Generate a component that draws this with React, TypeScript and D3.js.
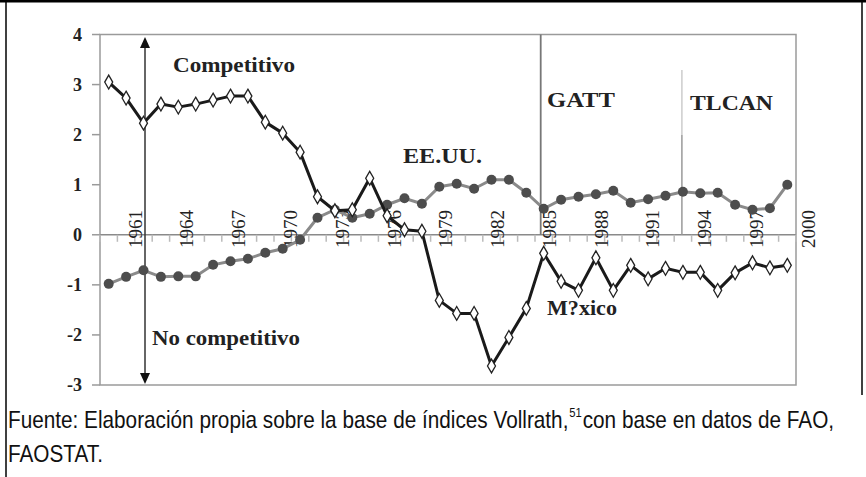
import React, { useLayoutEffect, useRef, useState } from "react";
import * as d3 from "d3";

const years: number[] = d3.range(1961, 2001);
const mexico: number[] = [3.05, 2.73, 2.23, 2.61, 2.55, 2.61, 2.69, 2.77, 2.77, 2.25, 2.03, 1.65, 0.76, 0.48, 0.5, 1.13, 0.38, 0.1, 0.07, -1.31, -1.57, -1.57, -2.62, -2.05, -1.47, -0.37, -0.93, -1.11, -0.46, -1.11, -0.61, -0.88, -0.67, -0.75, -0.75, -1.11, -0.76, -0.56, -0.66, -0.61];
const usa: number[] = [-0.98, -0.84, -0.71, -0.84, -0.83, -0.83, -0.6, -0.53, -0.48, -0.36, -0.28, -0.1, 0.34, 0.5, 0.34, 0.42, 0.6, 0.73, 0.62, 0.96, 1.02, 0.92, 1.1, 1.1, 0.84, 0.52, 0.7, 0.76, 0.81, 0.88, 0.64, 0.71, 0.78, 0.86, 0.83, 0.84, 0.6, 0.5, 0.53, 1.0];
const tickYears: number[] = [1961, 1964, 1967, 1970, 1973, 1976, 1979, 1982, 1985, 1988, 1991, 1994, 1997, 2000];
const yTicks: number[] = [4, 3, 2, 1, 0, -1, -2, -3];
const events = [
  { label: "GATT", year: 1986 },
  { label: "TLCAN", year: 1994 },
];
const noteParts: string[] = ["Fuente: Elaboración propia sobre la base de índices Vollrath,", "51", " con base en datos de FAO,"];
const noteLine2 = "FAOSTAT.";

const W = 866, H = 477;
const L = 100, R = 796, T = 34.5, B = 385;
const NOTE_W = 827;

export default function App() {
  const band = d3.scaleBand<number>().domain(years).range([L, R]);
  const x = (yr: number) => (band(yr) as number) + band.bandwidth() / 2;
  const y = d3.scaleLinear().domain([-3, 4]).range([B, T]);
  const labelX = d3.scaleLinear().domain([1961, 2000]).range([135, 808]);
  const y0 = y(0);

  const line = d3.line<number>().x((_, i) => x(years[i])).y((v) => y(v));
  const diamond = d3.symbol().type(d3.symbolDiamond).size(55)() as string;

  const serif = "'Liberation Serif', 'Times New Roman', serif";
  const sans = "'Liberation Sans Narrow', 'Liberation Sans', Arial, sans-serif";

  const r0 = useRef<SVGTextElement>(null);
  const r1 = useRef<SVGTextElement>(null);
  const r2 = useRef<SVGTextElement>(null);
  const [widths, setWidths] = useState<number[]>([600, 14, 220]);
  useLayoutEffect(() => {
    const w = [r0, r1, r2].map((r) => (r.current ? r.current.getComputedTextLength() : 0));
    if (w.every((v) => v > 0)) setWidths(w);
  }, []);
  const total = widths[0] + widths[1] + widths[2] + 3;
  const sx = NOTE_W / total;

  return (
    <svg width={W} height={H} style={{ position: "absolute", left: 0, top: 0, background: "#fff" }}>
      {/* outer frame */}
      <line x1={0} x2={W} y1={1.2} y2={1.2} stroke="#000" strokeWidth={2.6} />
      <line x1={6} x2={6} y1={0} y2={H} stroke="#000" strokeWidth={1.5} />
      <line x1={862} x2={862} y1={0} y2={395} stroke="#000" strokeWidth={1.5} />

      {/* plot frame */}
      <rect x={L} y={T} width={R - L} height={B - T} fill="none" stroke="#9a9a9a" strokeWidth={1.5} />
      {yTicks.map((t) => (
        <g key={t}>
          <line x1={L - 8} x2={L} y1={y(t)} y2={y(t)} stroke="#9a9a9a" strokeWidth={1.5} />
          <text x={82} y={y(t)} dy="0.35em" textAnchor="end" fontFamily={serif} fontWeight="bold" fontSize={18} fill="#222">
            {t < 0 ? "-" + Math.abs(t) : String(t)}
          </text>
        </g>
      ))}
      <line x1={L} x2={R} y1={y0} y2={y0} stroke="#8a8a8a" strokeWidth={1.5} />
      {d3.range(years.length + 1).map((k) => (
        <line key={k} x1={L + k * band.step()} x2={L + k * band.step()} y1={y0} y2={y0 + 7} stroke="#bbb" strokeWidth={1.5} />
      ))}
      {tickYears.map((yr) => (
        <text key={yr} transform={`translate(${labelX(yr)},${229}) rotate(-90)`} textAnchor="middle" dy="0.35em" fontFamily={serif} fontSize={19} fill="#222">
          {yr}
        </text>
      ))}

      {/* events */}
      <line x1={x(events[0].year) - 3} x2={x(events[0].year) - 3} y1={T} y2={y0} stroke="#777" strokeWidth={1.8} />
      <line x1={x(events[1].year) - 1} x2={x(events[1].year) - 1} y1={70} y2={135} stroke="#ccc" strokeWidth={1.5} />
      <line x1={x(events[1].year) - 1} x2={x(events[1].year) - 1} y1={135} y2={y0} stroke="#999" strokeWidth={1.5} />

      {/* arrow */}
      <line x1={145} x2={145} y1={44} y2={376} stroke="#333" strokeWidth={1.5} />
      <path d="M145,37 L140,48 L150,48 Z" fill="#111" />
      <path d="M145,384 L140,373 L150,373 Z" fill="#111" />

      {/* USA */}
      <path d={line(usa) as string} fill="none" stroke="#8a8a8a" strokeWidth={3} />
      {usa.map((v, i) => (
        <circle key={i} cx={x(years[i])} cy={y(v)} r={5} fill="#4d4d4d" />
      ))}
      {/* Mexico */}
      <path d={line(mexico) as string} fill="none" stroke="#1a1a1a" strokeWidth={3} strokeLinejoin="round" />
      {mexico.map((v, i) => (
        <path key={i} d={diamond} transform={`translate(${x(years[i])},${y(v)})`} fill="#fff" stroke="#222" strokeWidth={1.3} />
      ))}

      {/* annotations */}
      <text x={173} y={72} fontFamily={serif} fontWeight="bold" fontSize={21} fill="#222" textLength={122} lengthAdjust="spacingAndGlyphs">Competitivo</text>
      <text x={152} y={345} fontFamily={serif} fontWeight="bold" fontSize={21} fill="#222" textLength={148} lengthAdjust="spacingAndGlyphs">No competitivo</text>
      <text x={403} y={163} fontFamily={serif} fontWeight="bold" fontSize={21} fill="#222" textLength={79} lengthAdjust="spacingAndGlyphs">EE.UU.</text>
      <text x={547} y={107} fontFamily={serif} fontWeight="bold" fontSize={21} fill="#222" textLength={68} lengthAdjust="spacingAndGlyphs">{events[0].label}</text>
      <text x={690} y={110} fontFamily={serif} fontWeight="bold" fontSize={21} fill="#222" textLength={83} lengthAdjust="spacingAndGlyphs">{events[1].label}</text>
      <text x={547} y={315} fontFamily={serif} fontWeight="bold" fontSize={21} fill="#222" textLength={70} lengthAdjust="spacingAndGlyphs">M?xico</text>

      {/* footnote */}
      <g transform={`translate(8,0) scale(${sx},1)`}>
        <text ref={r0} x={0} y={428} fontFamily={sans} fontSize={24} fill="#111">{noteParts[0]}</text>
        <text ref={r1} x={widths[0] + 1} y={417} fontFamily={sans} fontSize={13} fill="#111">{noteParts[1]}</text>
        <text ref={r2} x={widths[0] + widths[1] + 2} y={428} fontFamily={sans} fontSize={24} fill="#111">{noteParts[2]}</text>
        <text x={0} y={462} fontFamily={sans} fontSize={24} fill="#111">{noteLine2}</text>
      </g>
    </svg>
  );
}
